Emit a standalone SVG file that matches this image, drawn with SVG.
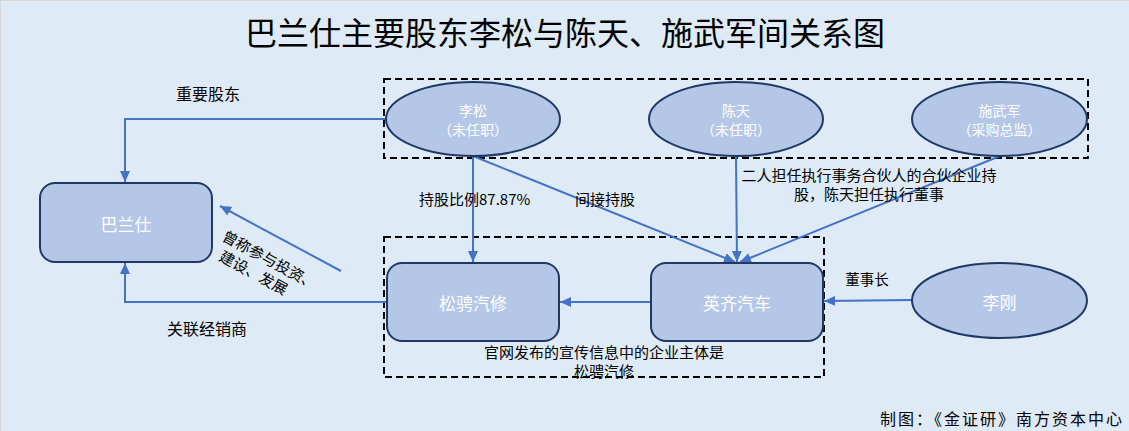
<svg xmlns="http://www.w3.org/2000/svg" width="1129" height="431" viewBox="0 0 1129 431">
<defs>
<marker id="arr" markerUnits="userSpaceOnUse" markerWidth="12" markerHeight="12" viewBox="0 0 12 12" refX="11" refY="6" orient="auto">
<path d="M0,1 L11,6 L0,11 Z" fill="#4472C4"/>
</marker>
<style>
.bg{fill:#DEEAF6;stroke:#D6D6D6;stroke-width:2}
.grp{fill:none;stroke:#000;stroke-width:2;stroke-dasharray:7 4}
.node{fill:#B4C7E7;stroke:#1F3864;stroke-width:2}
.nt{font-family:"Noto Sans CJK SC","Noto Sans",sans-serif;fill:#FFFFFF;text-anchor:middle;dominant-baseline:central}
.lb{font-family:"Noto Sans CJK SC","Noto Sans",sans-serif;fill:#000;dominant-baseline:central}
.c{fill:none;stroke:#4472C4;stroke-width:2}
</style>
</defs>
<rect class="bg" x="0" y="0" width="1130" height="432"/>
<text x="565" y="31" font-family="'Noto Sans CJK SC',sans-serif" font-size="32" text-anchor="middle" dominant-baseline="central" fill="#000">巴兰仕主要股东李松与陈天、施武军间关系图</text>

<g id="group-top"><rect class="grp" x="384" y="79" width="704" height="79"/></g>
<g id="group-bottom"><rect class="grp" x="384" y="237" width="440" height="140"/></g>

<g id="connectors">
<path class="c" d="M386,119 H125 V182" marker-end="url(#arr)"/>
<path class="c" d="M387,302 H125 V263" marker-end="url(#arr)"/>
<path class="c" d="M341,271 L220,206" marker-end="url(#arr)"/>
<path class="c" d="M473,156 V262" marker-end="url(#arr)"/>
<path class="c" d="M473,156 L735,262" marker-end="url(#arr)"/>
<path class="c" d="M736,156 L737,262" marker-end="url(#arr)"/>
<path class="c" d="M1000,156 L740,262" marker-end="url(#arr)"/>
<path class="c" d="M651,302 H560" marker-end="url(#arr)"/>
<path class="c" d="M912,300 L824,301" marker-end="url(#arr)"/>
</g>

<g id="n-balanshi"><rect class="node" x="40" y="183" width="172" height="79" rx="15"/><text class="nt" x="126" y="223" font-size="17">巴兰仕</text></g>
<g id="n-lisong"><ellipse class="node" cx="473" cy="119" rx="87" ry="37"/><text class="nt" x="473" y="110" font-size="14">李松</text><text class="nt" x="473" y="129" font-size="14">（未任职）</text></g>
<g id="n-chentian"><ellipse class="node" cx="736" cy="119" rx="87" ry="37"/><text class="nt" x="736" y="110" font-size="14">陈天</text><text class="nt" x="736" y="129" font-size="14">（未任职）</text></g>
<g id="n-shiwujun"><ellipse class="node" cx="999.5" cy="119" rx="87.5" ry="37"/><text class="nt" x="999.5" y="110" font-size="14">施武军</text><text class="nt" x="999.5" y="129" font-size="14">（采购总监）</text></g>
<g id="n-songcheng"><rect class="node" x="387" y="263" width="172" height="78" rx="15"/><text class="nt" x="473" y="302" font-size="17">松骋汽修</text></g>
<g id="n-yingqi"><rect class="node" x="651" y="263" width="172" height="78" rx="15"/><text class="nt" x="737" y="302" font-size="17">英齐汽车</text></g>
<g id="n-ligang"><ellipse class="node" cx="999.5" cy="300.5" rx="87.5" ry="37.5"/><text class="nt" x="999.5" y="301" font-size="17">李刚</text></g>

<g id="labels">
<text class="lb" x="208" y="93" font-size="16" text-anchor="middle">重要股东</text>
<text class="lb" x="207" y="328" font-size="16" text-anchor="middle">关联经销商</text>
<g transform="rotate(28.4 224 234)">
<text class="lb" x="224" y="234" font-size="15">曾称参与投资、</text>
<text class="lb" x="231" y="253" font-size="15">建设、发展</text>
</g>
<text class="lb" x="419" y="198" font-size="15">持股比例87.87%</text>
<text class="lb" x="605" y="198" font-size="15" text-anchor="middle">间接持股</text>
<text class="lb" x="869" y="174.5" font-size="15" text-anchor="middle">二人担任执行事务合伙人的合伙企业持</text>
<text class="lb" x="869" y="193.5" font-size="15" text-anchor="middle">股，陈天担任执行董事</text>
<text class="lb" x="867" y="278" font-size="14.5" text-anchor="middle">董事长</text>
<text class="lb" x="604" y="351.5" font-size="15" text-anchor="middle">官网发布的宣传信息中的企业主体是</text>
<text class="lb" x="604" y="370.5" font-size="15" text-anchor="middle">松骋汽修</text>
<text class="lb" x="1124" y="418" font-size="16" text-anchor="end" letter-spacing="2">制图：《金证研》南方资本中心</text>
</g>
</svg>
